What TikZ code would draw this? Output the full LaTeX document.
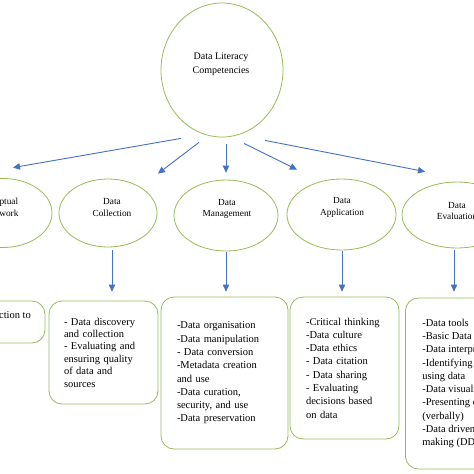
\documentclass[tikz,border=0pt]{standalone}
\usepackage{fontspec}
\setmainfont{Liberation Serif}
\usetikzlibrary{shapes.geometric,arrows.meta}
\definecolor{ogreen}{RGB}{155,187,89}
\definecolor{ablue}{RGB}{68,114,196}
\begin{document}
\begin{tikzpicture}[x=1pt,y=-1pt,
  oval/.style={draw=ogreen,line width=0.8pt,ellipse,inner sep=0pt},
  lbl/.style={align=center,inner sep=0pt,font=\fontsize{9.3}{11.5}\selectfont},
  listbox/.style={draw=ogreen,line width=0.8pt,rounded corners=13pt,align=left,inner ysep=0pt,font=\fontsize{10.5}{13.3}\selectfont},
  arr/.style={draw=ablue,line width=0.9pt,-{Triangle[length=7pt,width=6.5pt]}}]
\useasboundingbox (0,0) rectangle (474,474);
\fill[white] (0,0) rectangle (474,474);
\clip (0,0) rectangle (474,474);

% central circle
\node[oval,minimum width=122pt,minimum height=134pt] (top) at (222,70) {};
\node[lbl,font=\fontsize{10}{14}\selectfont] (toptxt) at (221,64) {Data Literacy\\Competencies};

% second level ellipses
\node[oval,minimum width=98pt,minimum height=69pt] (conc) at (3,213) {};
\node[lbl] (conctxt) at (-3,207.5) {Conceptual\\Framework};
\node[oval,minimum width=98pt,minimum height=68pt] (coll) at (108,213) {};
\node[lbl] (colltxt) at (112,207.5) {Data\\Collection};
\node[oval,minimum width=104pt,minimum height=71pt] (mgmt) at (226,215.5) {};
\node[lbl] (mgmttxt) at (227,209) {Data\\Management};
\node[oval,minimum width=109pt,minimum height=71pt] (appl) at (341.5,214.5) {};
\node[lbl] (appltxt) at (342,207.5) {Data\\Application};
\node[oval,minimum width=110pt,minimum height=66pt] (eval) at (457,215) {};
\node[lbl] (evaltxt) at (457,211) {Data\\Evaluation};

% arrows from the circle
\draw[arr] ([xshift=-41pt,yshift=-1pt]top.south) -- ([xshift=10pt,yshift=10.5pt]conc.north);
\draw[arr] ([xshift=-23pt,yshift=-5pt]top.south) -- ([xshift=50pt,yshift=5pt]coll.north);
\draw[arr] ([xshift=4pt,yshift=-7pt]top.south) -- ([xshift=0pt,yshift=7pt]mgmt.north);
\draw[arr] ([xshift=22pt,yshift=-6pt]top.south) -- ([xshift=-44.5pt,yshift=9pt]appl.north);
\draw[arr] ([xshift=43pt,yshift=-3pt]top.south) -- ([xshift=-32pt,yshift=10pt]eval.north);

% boxes
\node[listbox,inner xsep=14pt,minimum height=42pt] (concbox) at (-3.5,322)
  {- Introduction to\\\mbox{}};
\node[listbox,minimum width=109pt,text width=79pt,inner xsep=15pt,minimum height=103pt,font=\fontsize{10.5}{12.4}\selectfont] (collbox) at (103.5,352.5)
  {- Data discovery\\and collection\\- Evaluating and\\ensuring quality\\of data and\\sources};
\node[listbox,minimum width=127pt,text width=95pt,inner xsep=16pt,minimum height=152pt] (mgmtbox) at (224.5,373)
  {-Data organisation\\-Data manipulation\\- Data conversion\\-Metadata creation\\and use\\-Data curation,\\security, and use\\-Data preservation};
\node[listbox,minimum width=109pt,text width=77pt,inner xsep=16pt,minimum height=142pt] (applbox) at (344.5,368)
  {-Critical thinking\\-Data culture\\-Data ethics\\- Data citation\\- Data sharing\\- Evaluating\\decisions based\\on data};
\node[listbox,anchor=west,inner xsep=17pt,minimum height=171pt] (evalbox) at (405,383.5)
  {-Data tools\\-Basic Data analysis\\-Data interpretation\\-Identifying problems\\using data\\-Data visualisation\\-Presenting data\\(verbally)\\-Data driven decision\\making (DDDM)};

% arrows down to boxes
\draw[arr] ([xshift=4pt,yshift=-3pt]coll.south) -- ([xshift=8.5pt,yshift=9pt]collbox.north);
\draw[arr] ([yshift=-1pt]mgmt.south) -- ([xshift=1.5pt,yshift=5pt]mgmtbox.north);
\draw[arr] ([xshift=0.5pt,yshift=-1pt]appl.south) -- ([xshift=-2.5pt,yshift=5pt]applbox.north);
\draw[arr] ([xshift=-3pt,yshift=-2pt]eval.south) -- ([xshift=49pt,yshift=6pt]evalbox.north west);
\end{tikzpicture}
\end{document}
